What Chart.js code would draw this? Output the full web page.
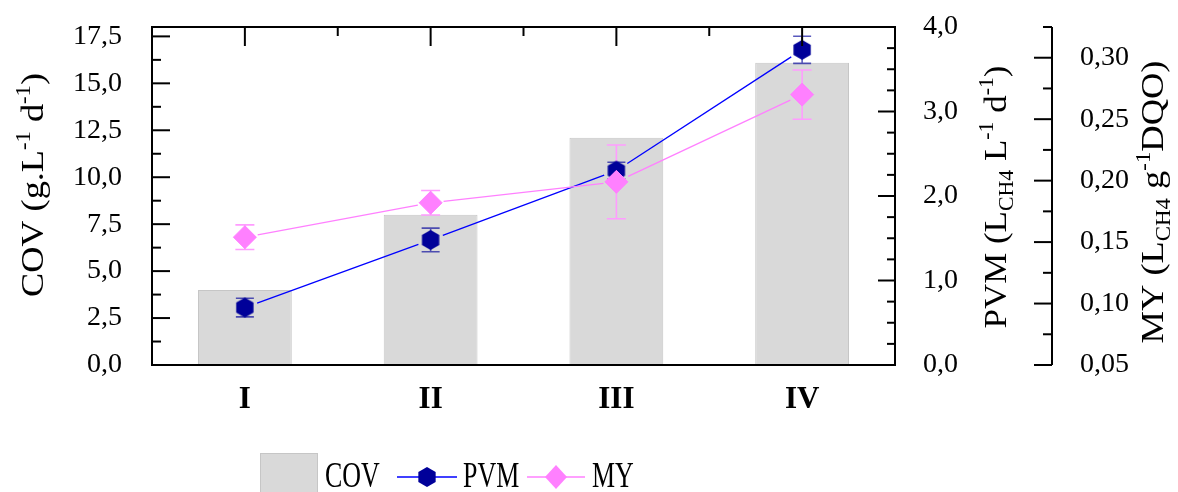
<!DOCTYPE html>
<html>
<head>
<meta charset="utf-8">
<title>COV, PVM e MY por etapa</title>
<script src="https://cdn.jsdelivr.net/npm/chart.js@4.4.1/dist/chart.umd.min.js"></script>
<style>
  html, body { margin: 0; padding: 0; background: #fff; overflow: hidden; }
  canvas { display: block; }
</style>
</head>
<body>
<canvas id="chart" width="1178" height="492"></canvas>
<script>
// Operational stages
const stages = ['I', 'II', 'III', 'IV'];

// Organic loading rate (COV), g.L-1 d-1
const cov = [4.0, 8.0, 12.1, 16.1];

// Volumetric methane production (PVM), L CH4 L-1 d-1, with standard deviation
const pvm = [0.68, 1.48, 2.30, 3.73];
const pvmErr = [0.11, 0.14, 0.10, 0.16];

// Methane yield (MY), L CH4 g-1 DQO, with standard deviation
const my = [0.154, 0.182, 0.199, 0.270];
const myErr = [0.010, 0.010, 0.030, 0.020];

// Tick values of the three value axes
const covTicks = [0, 2.5, 5, 7.5, 10, 12.5, 15, 17.5];
const pvmTicks = [0, 1, 2, 3, 4];
const myTicks = [0.05, 0.10, 0.15, 0.20, 0.25, 0.30];

const SERIF = "'Liberation Serif', 'Times New Roman', serif";
const COLORS = {
  bar: '#d9d9d9', barEdge: '#c6c6c6',
  pvmMarker: '#000099', pvmLine: '#0000ff', pvmErr: 'rgba(0,0,153,0.65)',
  myMarker: '#ff80ff', myLine: '#ff80ff', myErr: '#ff9cff'
};

const commaFmt = (digits) => (v) => Number(v).toFixed(digits).replace('.', ',');
const fixedTicks = (values) => (scale) => { scale.ticks = values.map(v => ({ value: v })); };
// value axes keep no extra room above/below for their end labels
const fixWidth = (w) => (s) => { s.width = w; s.paddingTop = 0; s.paddingBottom = 0; };

// Hexagon marker (vertex up) rendered once and reused as a point style
function hexagonImage(r, fill) {
  const w = Math.ceil(Math.sqrt(3) * r) + 2, h = Math.ceil(2 * r) + 2;
  const cv = document.createElement('canvas');
  cv.width = w; cv.height = h;
  const g = cv.getContext('2d');
  g.beginPath();
  for (let i = 0; i < 6; i++) {
    const a = -Math.PI / 2 + i * Math.PI / 3;
    const px = w / 2 + r * Math.cos(a), py = h / 2 + r * Math.sin(a);
    if (i === 0) g.moveTo(px, py); else g.lineTo(px, py);
  }
  g.closePath();
  g.fillStyle = fill;
  g.fill();
  return cv;
}
const hexMarker = hexagonImage(10, COLORS.pvmMarker);

// Connecting lines that stop short of each marker, plus vertical error bars.
// Drawn right after the bars so the markers end up on top.
function drawGapLine(ctx, pts, color, width, gap) {
  ctx.save();
  ctx.strokeStyle = color;
  ctx.lineWidth = width;
  for (let i = 0; i < pts.length - 1; i++) {
    const a = pts[i], b = pts[i + 1];
    const dx = b.x - a.x, dy = b.y - a.y, L = Math.hypot(dx, dy);
    if (L <= 2 * gap) continue;
    const ux = dx / L, uy = dy / L;
    ctx.beginPath();
    ctx.moveTo(a.x + ux * gap, a.y + uy * gap);
    ctx.lineTo(b.x - ux * gap, b.y - uy * gap);
    ctx.stroke();
  }
  ctx.restore();
}
function drawErrorBars(ctx, pts, values, errs, scale, color, cap) {
  ctx.save();
  ctx.strokeStyle = color;
  ctx.lineWidth = 1.6;
  pts.forEach((p, i) => {
    const yTop = scale.getPixelForValue(values[i] + errs[i]);
    const yBot = scale.getPixelForValue(values[i] - errs[i]);
    ctx.beginPath();
    ctx.moveTo(p.x, yTop); ctx.lineTo(p.x, yBot);
    ctx.moveTo(p.x - cap / 2, yTop); ctx.lineTo(p.x + cap / 2, yTop);
    ctx.moveTo(p.x - cap / 2, yBot); ctx.lineTo(p.x + cap / 2, yBot);
    ctx.stroke();
  });
  ctx.restore();
}
const seriesDecor = {
  id: 'seriesDecor',
  afterDatasetDraw(chart, args) {
    if (args.index !== 0) return;
    const ctx = chart.ctx;
    const pvmPts = chart.getDatasetMeta(1).data;
    const myPts = chart.getDatasetMeta(2).data;
    drawErrorBars(ctx, pvmPts, pvm, pvmErr, chart.scales.yP, COLORS.pvmErr, 18);
    drawErrorBars(ctx, myPts, my, myErr, chart.scales.yM, COLORS.myErr, 19);
    drawGapLine(ctx, pvmPts, COLORS.pvmLine, 1.3, 13);
    drawGapLine(ctx, myPts, COLORS.myLine, 1.3, 13);
  }
};

// Plot frame, inward tick marks (major + minor) and the detached MY axis line
const frameTicks = {
  id: 'frameTicks',
  afterDraw(chart) {
    const { ctx, chartArea: ca, scales } = chart;
    ctx.save();
    ctx.strokeStyle = '#000';
    ctx.lineWidth = 2;
    ctx.strokeRect(ca.left, ca.top, ca.right - ca.left, ca.bottom - ca.top);
    const line = (x1, y1, x2, y2) => { ctx.beginPath(); ctx.moveTo(x1, y1); ctx.lineTo(x2, y2); ctx.stroke(); };

    // left COV axis: major every 2.5, minor every 1.25
    for (let k = 0; k * 1.25 <= scales.y.max + 1e-9; k++) {
      const y = scales.y.getPixelForValue(k * 1.25);
      line(ca.left, y, ca.left + (k % 2 === 0 ? 18 : 9), y);
    }
    // right PVM axis: major every 1.0, minor every 0.25
    for (let k = 0; k * 0.25 <= scales.yP.max + 1e-9; k++) {
      const y = scales.yP.getPixelForValue(k * 0.25);
      line(ca.right, y, ca.right - (k % 4 === 0 ? 17 : 8), y);
    }
    // top edge: major at each stage, minor between stages
    stages.forEach((_, i) => {
      const x = scales.x.getPixelForValue(i);
      line(x, ca.top, x, ca.top + 19);
      if (i < stages.length - 1) {
        const xm = scales.x.getPixelForValue(i + 0.5);
        line(xm, ca.top, xm, ca.top + 9);
      }
    });
    // MY axis line, ticks pointing left: major every 0.05, minor every 0.025
    const xm = scales.yM.left;
    line(xm, ca.top, xm, ca.bottom);
    for (let k = 0; 0.05 + k * 0.025 <= scales.yM.max + 1e-9; k++) {
      const y = scales.yM.getPixelForValue(0.05 + k * 0.025);
      line(xm, y, xm - (k % 2 === 0 ? 18 : 9), y);
    }
    ctx.restore();
  }
};

// Rotated axis titles with sub/superscripts
function drawRichTitle(ctx, parts, baseX, centerY, size, length) {
  const small = Math.round(size * 0.62);
  const fontFor = (p) => `${p.sub || p.sup ? small : size}px ${SERIF}`;
  let natural = 0;
  parts.forEach(p => { ctx.font = fontFor(p); natural += ctx.measureText(p.t).width; });
  ctx.save();
  ctx.translate(baseX, centerY);
  ctx.rotate(-Math.PI / 2);
  ctx.scale(length / natural, 1);
  ctx.fillStyle = '#000';
  ctx.textBaseline = 'alphabetic';
  let x = -natural / 2;
  parts.forEach(p => {
    ctx.font = fontFor(p);
    const dy = p.sup ? -size * 0.40 : (p.sub ? size * 0.22 : 0);
    ctx.fillText(p.t, x, dy);
    x += ctx.measureText(p.t).width;
  });
  ctx.restore();
}
const axisTitles = {
  id: 'axisTitles',
  afterDraw(chart) {
    const ctx = chart.ctx;
    drawRichTitle(ctx, [
      { t: 'COV (g.L' }, { t: '-1', sup: true }, { t: ' d' }, { t: '-1', sup: true }, { t: ')' }
    ], 43, 185, 32, 224);
    drawRichTitle(ctx, [
      { t: 'PVM (L' }, { t: 'CH4', sub: true }, { t: ' L' }, { t: '-1', sup: true },
      { t: ' d' }, { t: '-1', sup: true }, { t: ')' }
    ], 1006, 197, 32, 263);
    drawRichTitle(ctx, [
      { t: 'MY (L' }, { t: 'CH4', sub: true }, { t: ' g' }, { t: '-1', sup: true }, { t: 'DQO)' }
    ], 1163, 202, 32, 283);
  }
};

// Legend row below the stage labels
const legendRow = {
  id: 'legendRow',
  afterDraw(chart) {
    const ctx = chart.ctx;
    const cy = 477;
    const label = (text, x) => {
      ctx.save();
      ctx.translate(x, 487);
      ctx.scale(0.72, 1);
      ctx.font = `36px ${SERIF}`;
      ctx.fillStyle = '#000';
      ctx.textBaseline = 'alphabetic';
      ctx.fillText(text, 0, 0);
      ctx.restore();
    };
    ctx.save();
    // COV swatch
    ctx.fillStyle = COLORS.bar;
    ctx.strokeStyle = COLORS.barEdge;
    ctx.lineWidth = 1;
    ctx.fillRect(260, 453, 58, 40);
    ctx.strokeRect(260.5, 453.5, 57, 40);
    label(chart.data.datasets[0].label, 325);
    // PVM line + hexagon
    ctx.strokeStyle = COLORS.pvmLine;
    ctx.lineWidth = 1.3;
    ctx.beginPath(); ctx.moveTo(397, cy); ctx.lineTo(457, cy); ctx.stroke();
    ctx.drawImage(hexMarker, 427 - hexMarker.width / 2, cy - hexMarker.height / 2);
    label(chart.data.datasets[1].label, 463);
    // MY line + diamond
    ctx.strokeStyle = COLORS.myLine;
    ctx.beginPath(); ctx.moveTo(527, cy); ctx.lineTo(585, cy); ctx.stroke();
    ctx.fillStyle = COLORS.myMarker;
    ctx.beginPath();
    ctx.moveTo(556, cy - 12); ctx.lineTo(567, cy); ctx.lineTo(556, cy + 12); ctx.lineTo(545, cy);
    ctx.closePath(); ctx.fill();
    label(chart.data.datasets[2].label, 592);
    ctx.restore();
  }
};

new Chart(document.getElementById('chart'), {
  data: {
    labels: stages,
    datasets: [
      {
        type: 'bar', label: 'COV', data: cov, yAxisID: 'y', order: 2,
        backgroundColor: COLORS.bar, borderColor: COLORS.barEdge, borderWidth: 1,
        categoryPercentage: 1, barPercentage: 0.505
      },
      {
        type: 'line', label: 'PVM', data: pvm, yAxisID: 'yP', order: 1,
        showLine: false, pointStyle: hexMarker, pointRadius: 10, pointHoverRadius: 10,
        backgroundColor: COLORS.pvmMarker, borderColor: COLORS.pvmLine
      },
      {
        type: 'line', label: 'MY', data: my, yAxisID: 'yM', order: 0,
        showLine: false, pointStyle: 'rectRot', pointRadius: 11.5, pointHoverRadius: 11.5,
        pointBorderWidth: 1, backgroundColor: COLORS.myMarker, borderColor: COLORS.myMarker
      }
    ]
  },
  options: {
    responsive: false,
    animation: false,
    events: [],
    layout: { padding: { top: 27, left: 0, right: 0, bottom: 0 } },
    plugins: { legend: { display: false }, tooltip: { enabled: false } },
    scales: {
      x: {
        type: 'category', offset: true,
        grid: { display: false }, border: { display: false },
        ticks: { color: '#000', padding: 8, font: { family: SERIF, size: 31, weight: 'bold' } },
        afterFit: (s) => { s.height = 127; }
      },
      y: {
        position: 'left', min: 0, max: 18,
        afterBuildTicks: fixedTicks(covTicks),
        grid: { display: false }, border: { display: false },
        ticks: { color: '#000', padding: 22, font: { family: SERIF, size: 28 }, callback: commaFmt(1) },
        afterFit: fixWidth(152)
      },
      yP: {
        position: 'right', weight: 1, min: 0, max: 4,
        afterBuildTicks: fixedTicks(pvmTicks),
        grid: { display: false }, border: { display: false },
        ticks: { color: '#000', padding: 20, font: { family: SERIF, size: 28 }, callback: commaFmt(1) },
        afterFit: fixWidth(157)
      },
      yM: {
        position: 'right', weight: 2, min: 0.05, max: 0.325,
        afterBuildTicks: fixedTicks(myTicks),
        grid: { display: false }, border: { display: false },
        ticks: { color: '#000', padding: 20, font: { family: SERIF, size: 28 }, callback: commaFmt(2) },
        afterFit: fixWidth(126)
      }
    }
  },
  plugins: [seriesDecor, frameTicks, axisTitles, legendRow]
});
</script>
</body>
</html>
